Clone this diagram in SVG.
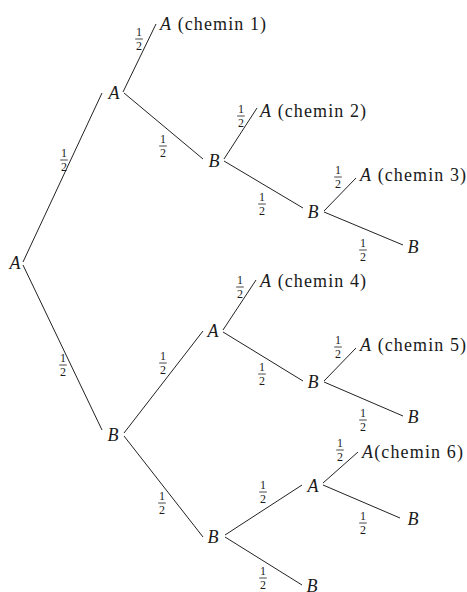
<svg xmlns="http://www.w3.org/2000/svg" width="467" height="592" viewBox="0 0 467 592">
<style>
.bg{fill:#ffffff}
.e{stroke:#222;stroke-width:1;fill:none}
.n{font-size:18px;font-style:italic;fill:#1a1a1a;text-anchor:middle}
.c{font-size:18px;fill:#1a1a1a}
.i{font-style:italic}
.f text{font-size:12px;fill:#1a1a1a;text-anchor:middle}
.f line{stroke:#1a1a1a;stroke-width:0.8}
</style>
<defs>
<g id="half" class="f" font-family="'Liberation Serif', 'DejaVu Serif', serif"><text x="0" y="-3">1</text><line x1="-3.8" y1="0" x2="3.8" y2="0"/><text x="0" y="11">2</text></g>
</defs>
<rect class="bg" x="0" y="0" width="467" height="592"/>
<g id="connectors">
<line class="e" x1="23" y1="262" x2="102" y2="93"/>
<line class="e" x1="123" y1="92" x2="156" y2="24"/>
<line class="e" x1="124" y1="93" x2="203" y2="159"/>
<line class="e" x1="224" y1="159" x2="257" y2="108"/>
<line class="e" x1="224" y1="161" x2="303" y2="208"/>
<line class="e" x1="324" y1="211" x2="356" y2="178"/>
<line class="e" x1="324" y1="212" x2="403" y2="245"/>
<line class="e" x1="23" y1="265" x2="102" y2="430"/>
<line class="e" x1="124" y1="433" x2="203" y2="331"/>
<line class="e" x1="223" y1="330" x2="256" y2="280"/>
<line class="e" x1="223" y1="332" x2="303" y2="381"/>
<line class="e" x1="324" y1="381" x2="356" y2="348"/>
<line class="e" x1="324" y1="382" x2="403" y2="416"/>
<line class="e" x1="124" y1="436" x2="203" y2="537"/>
<line class="e" x1="225" y1="535" x2="302" y2="485"/>
<line class="e" x1="323" y1="483" x2="358" y2="452"/>
<line class="e" x1="323" y1="485" x2="400" y2="518"/>
<line class="e" x1="225" y1="537" x2="302" y2="585"/>
<use href="#half" x="64" y="160"/>
<use href="#half" x="139" y="39"/>
<use href="#half" x="163" y="146"/>
<use href="#half" x="241" y="116"/>
<use href="#half" x="262" y="204"/>
<use href="#half" x="338" y="177"/>
<use href="#half" x="363" y="250"/>
<use href="#half" x="63" y="365"/>
<use href="#half" x="163" y="363"/>
<use href="#half" x="240" y="287"/>
<use href="#half" x="262" y="374"/>
<use href="#half" x="338" y="347"/>
<use href="#half" x="363" y="420"/>
<use href="#half" x="162" y="503"/>
<use href="#half" x="263" y="492"/>
<use href="#half" x="340" y="450"/>
<use href="#half" x="363" y="523"/>
<use href="#half" x="263" y="578"/>
</g>
<g id="nodes" font-family="'Liberation Serif', 'DejaVu Serif', serif">
<g id="n0"><text class="n" x="15" y="269">A</text></g>
<g id="n1"><text class="n" x="114" y="99">A</text></g>
<g id="n11"><text class="c" x="160" y="30" textLength="106" lengthAdjust="spacing"><tspan class="i">A</tspan> (chemin 1)</text></g>
<g id="n12"><text class="n" x="214" y="167">B</text></g>
<g id="n121"><text class="c" x="260" y="117" textLength="106" lengthAdjust="spacing"><tspan class="i">A</tspan> (chemin 2)</text></g>
<g id="n122"><text class="n" x="313" y="218">B</text></g>
<g id="n1221"><text class="c" x="360" y="181" textLength="106" lengthAdjust="spacing"><tspan class="i">A</tspan> (chemin 3)</text></g>
<g id="n1222"><text class="n" x="413" y="253">B</text></g>
<g id="n2"><text class="n" x="113" y="441">B</text></g>
<g id="n21"><text class="n" x="213" y="337">A</text></g>
<g id="n211"><text class="c" x="260" y="287" textLength="106" lengthAdjust="spacing"><tspan class="i">A</tspan> (chemin 4)</text></g>
<g id="n212"><text class="n" x="313" y="388">B</text></g>
<g id="n2121"><text class="c" x="360" y="351" textLength="106" lengthAdjust="spacing"><tspan class="i">A</tspan> (chemin 5)</text></g>
<g id="n2122"><text class="n" x="413" y="423">B</text></g>
<g id="n22"><text class="n" x="213" y="543">B</text></g>
<g id="n221"><text class="n" x="313" y="492">A</text></g>
<g id="n2211"><text class="c" x="362" y="458" textLength="101" lengthAdjust="spacing"><tspan class="i">A</tspan>(chemin 6)</text></g>
<g id="n2212"><text class="n" x="413" y="525">B</text></g>
<g id="n222"><text class="n" x="312" y="592">B</text></g>
</g>
</svg>
